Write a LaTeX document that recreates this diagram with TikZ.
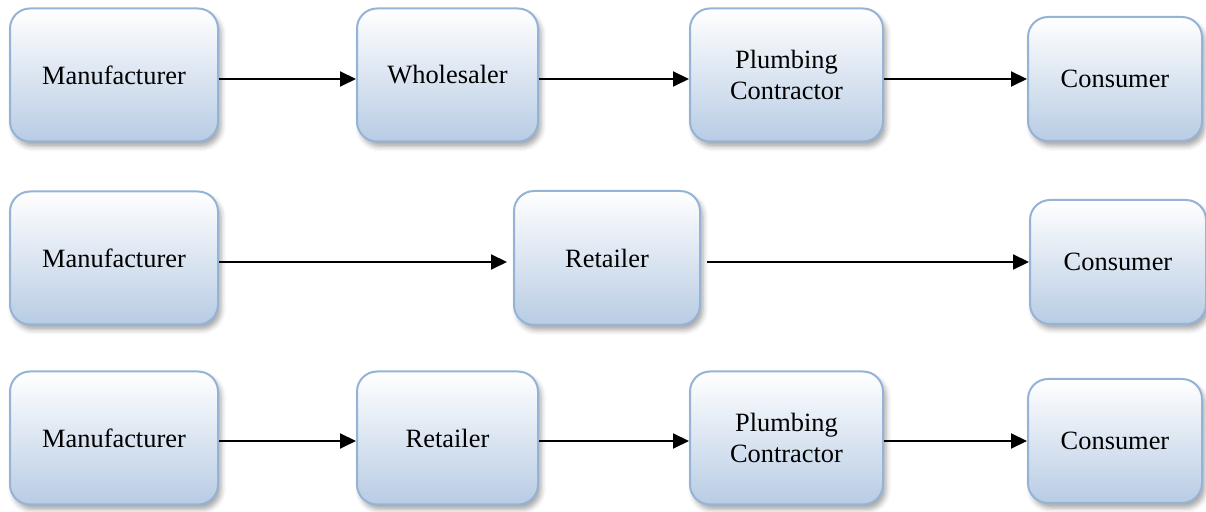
\documentclass[tikz,border=0pt]{standalone}
\usepackage{fontspec}
\setmainfont{Liberation Serif}
\usetikzlibrary{arrows.meta,shadows.blur}
\definecolor{boxline}{RGB}{149,179,215}
\definecolor{boxfill}{RGB}{184,204,228}

\begin{document}
\begin{tikzpicture}[x=0.5pt,y=-0.5pt,
  stage/.style={draw=boxline, line width=1pt, rounded corners=10pt,
    top color=white, bottom color=boxfill, minimum height=66.5pt,
    align=center, font=\fontsize{13.2}{15.5}\selectfont,
    blur shadow={shadow xshift=1.5pt, shadow yshift=-2.5pt,
      shadow opacity=35, shadow blur radius=2.5pt}},
  flow/.style={-{Triangle[length=8pt,width=7.5pt]}, line width=1pt}]
  \useasboundingbox (0,0) rectangle (1206,512);

  % manufacturer - wholesaler - contractor - consumer
  \node[stage, minimum width=104pt]  (m1) at (114,75)   {Manufacturer};
  \node[stage, minimum width=90.5pt] (w1) at (447.5,75) {Wholesaler};
  \node[stage, minimum width=96.5pt] (p1) at (786.5,75) {Plumbing\\Contractor};
  \node[stage, minimum width=87pt, minimum height=62pt] (c1) at (1115,79) {Consumer};

  % manufacturer - retailer - consumer
  \node[stage, minimum width=104pt]  (m2) at (114,258) {Manufacturer};
  \node[stage, minimum width=93pt, minimum height=67pt] (r2) at (607,258) {Retailer};
  \node[stage, minimum width=88pt, minimum height=62pt] (c2) at (1118,262) {Consumer};

  % manufacturer - retailer - contractor - consumer
  \node[stage, minimum width=104pt]  (m3) at (114,438)   {Manufacturer};
  \node[stage, minimum width=90.5pt] (r3) at (447.5,438) {Retailer};
  \node[stage, minimum width=96.5pt] (p3) at (786.5,438) {Plumbing\\Contractor};
  \node[stage, minimum width=87pt, minimum height=62pt] (c3) at (1115,441) {Consumer};

  \draw[flow] (m1.east |- c1.west) -- (w1.west |- c1.west);
  \draw[flow] (w1.east |- c1.west) -- (p1.west |- c1.west);
  \draw[flow] (p1.east |- c1.west) -- (c1.west);

  \draw[flow, shorten >=3pt] (m2.east |- c2.west) -- (r2.west |- c2.west);
  \draw[flow, shorten <=3pt] (r2.east |- c2.west) -- (c2.west);

  \draw[flow] (m3.east |- c3.west) -- (r3.west |- c3.west);
  \draw[flow] (r3.east |- c3.west) -- (p3.west |- c3.west);
  \draw[flow] (p3.east |- c3.west) -- (c3.west);
\end{tikzpicture}
\end{document}
